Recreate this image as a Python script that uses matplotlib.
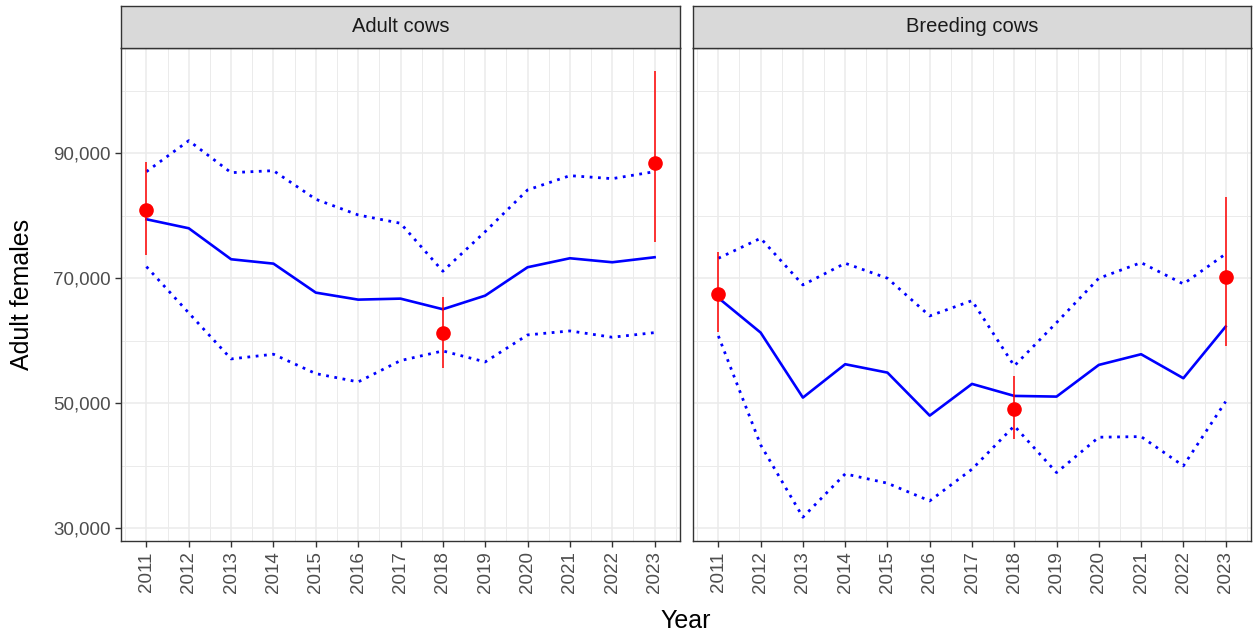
import numpy as np
import matplotlib
matplotlib.use("Agg")
import matplotlib.pyplot as plt
from matplotlib.ticker import FuncFormatter, MultipleLocator

plt.rcParams["font.family"] = ["Liberation Sans", "DejaVu Sans"]

years = list(range(2011, 2024))

# Adult cows panel
adult_mid = [79440, 78000, 73040, 72340, 67700, 66580, 66740, 65040, 67220, 71760, 73200, 72560, 73360]
adult_hi = [87060, 92020, 86900, 87220, 82640, 80130, 78800, 71120, 77460, 84130, 86420, 85940, 87060]
adult_lo = [71860, 64450, 57090, 57840, 54740, 53410, 56820, 58370, 56610, 60930, 61570, 60560, 61300]
adult_obs_years = [2011, 2018, 2023]
adult_obs = [80880, 61200, 88400]
adult_obs_lo = [73730, 55600, 75760]
adult_obs_hi = [88610, 67010, 103170]

# Breeding cows panel
breed_mid = [66850, 61300, 50900, 56240, 54900, 48020, 53090, 51170, 51060, 56130, 57840, 54000, 62260]
breed_hi = [73200, 76400, 68930, 72400, 70000, 63970, 66420, 55970, 62900, 70000, 72500, 69090, 73890]
breed_lo = [60770, 43330, 31760, 38690, 37200, 34370, 39440, 46370, 38900, 44560, 44660, 39970, 50260]
breed_obs_years = [2011, 2018, 2023]
breed_obs = [67540, 49140, 70160]
breed_obs_lo = [61410, 44240, 59220]
breed_obs_hi = [74160, 54420, 82960]

panels = [
    ("Adult cows", adult_mid, adult_hi, adult_lo, adult_obs_years, adult_obs, adult_obs_lo, adult_obs_hi),
    ("Breeding cows", breed_mid, breed_hi, breed_lo, breed_obs_years, breed_obs, breed_obs_lo, breed_obs_hi),
]

W, H = 1257, 634
fig = plt.figure(figsize=(W / 100, H / 100), dpi=100)

panel_x = [(121, 680), (693, 1251)]
top, bottom = 48, 541
strip_top = 6

grid_col = "#EBEBEB"
border_col = "#333333"

for i, (title, mid, hi, lo, oy, ov, olo, ohi) in enumerate(panels):
    x0, x1 = panel_x[i]
    ax = fig.add_axes([x0 / W, (H - bottom) / H, (x1 - x0) / W, (bottom - top) / H])
    ax.set_xlim(2010.4, 2023.6)
    ax.set_ylim(27950, 106850)

    ax.xaxis.set_major_locator(MultipleLocator(1))
    ax.xaxis.set_minor_locator(MultipleLocator(0.5))
    ax.set_yticks([30000, 50000, 70000, 90000])
    ax.set_yticks([40000, 60000, 80000, 100000], minor=True)
    ax.grid(which="major", color=grid_col, lw=1.1)
    ax.grid(which="minor", color=grid_col, lw=0.7)
    ax.set_axisbelow(True)

    ax.plot(years, mid, color="blue", lw=1.9, solid_joinstyle="round")
    ax.plot(years, hi, color="blue", lw=2.0, linestyle=(0, (1, 2)))
    ax.plot(years, lo, color="blue", lw=2.0, linestyle=(0, (1, 2)))

    ax.vlines(oy, olo, ohi, color="red", lw=1.1)
    ax.plot(oy, ov, "o", color="red", markersize=9.5, zorder=5)

    for s in ax.spines.values():
        s.set_color(border_col)
        s.set_linewidth(1.0)

    ax.set_xticks(years)
    ax.set_xticklabels([str(y) for y in years], rotation=90)
    ax.tick_params(axis="both", which="major", labelsize=13.5, colors="#333333",
                   labelcolor="#4D4D4D", length=4, width=1)
    ax.tick_params(which="minor", length=0)
    if i == 0:
        ax.yaxis.set_major_formatter(FuncFormatter(lambda v, p: f"{int(v):,}"))
    else:
        ax.tick_params(axis="y", which="major", length=0, labelleft=False)

    # facet strip
    sax = fig.add_axes([x0 / W, (H - top) / H, (x1 - x0) / W, (top - strip_top) / H])
    sax.set_facecolor("#D9D9D9")
    sax.set_xticks([])
    sax.set_yticks([])
    for s in sax.spines.values():
        s.set_color(border_col)
        s.set_linewidth(1.0)
    sax.text(0.5, 0.5, title, ha="center", va="center", fontsize=14.5, color="#1A1A1A",
             transform=sax.transAxes)

fig.text(22 / W, 1 - 294 / H, "Adult females", rotation=90, ha="center", va="center",
         fontsize=18, color="black")
fig.text(686 / W, 1 - 621 / H, "Year", ha="center", va="center", fontsize=18, color="black")

fig.savefig("out.png", dpi=100)
